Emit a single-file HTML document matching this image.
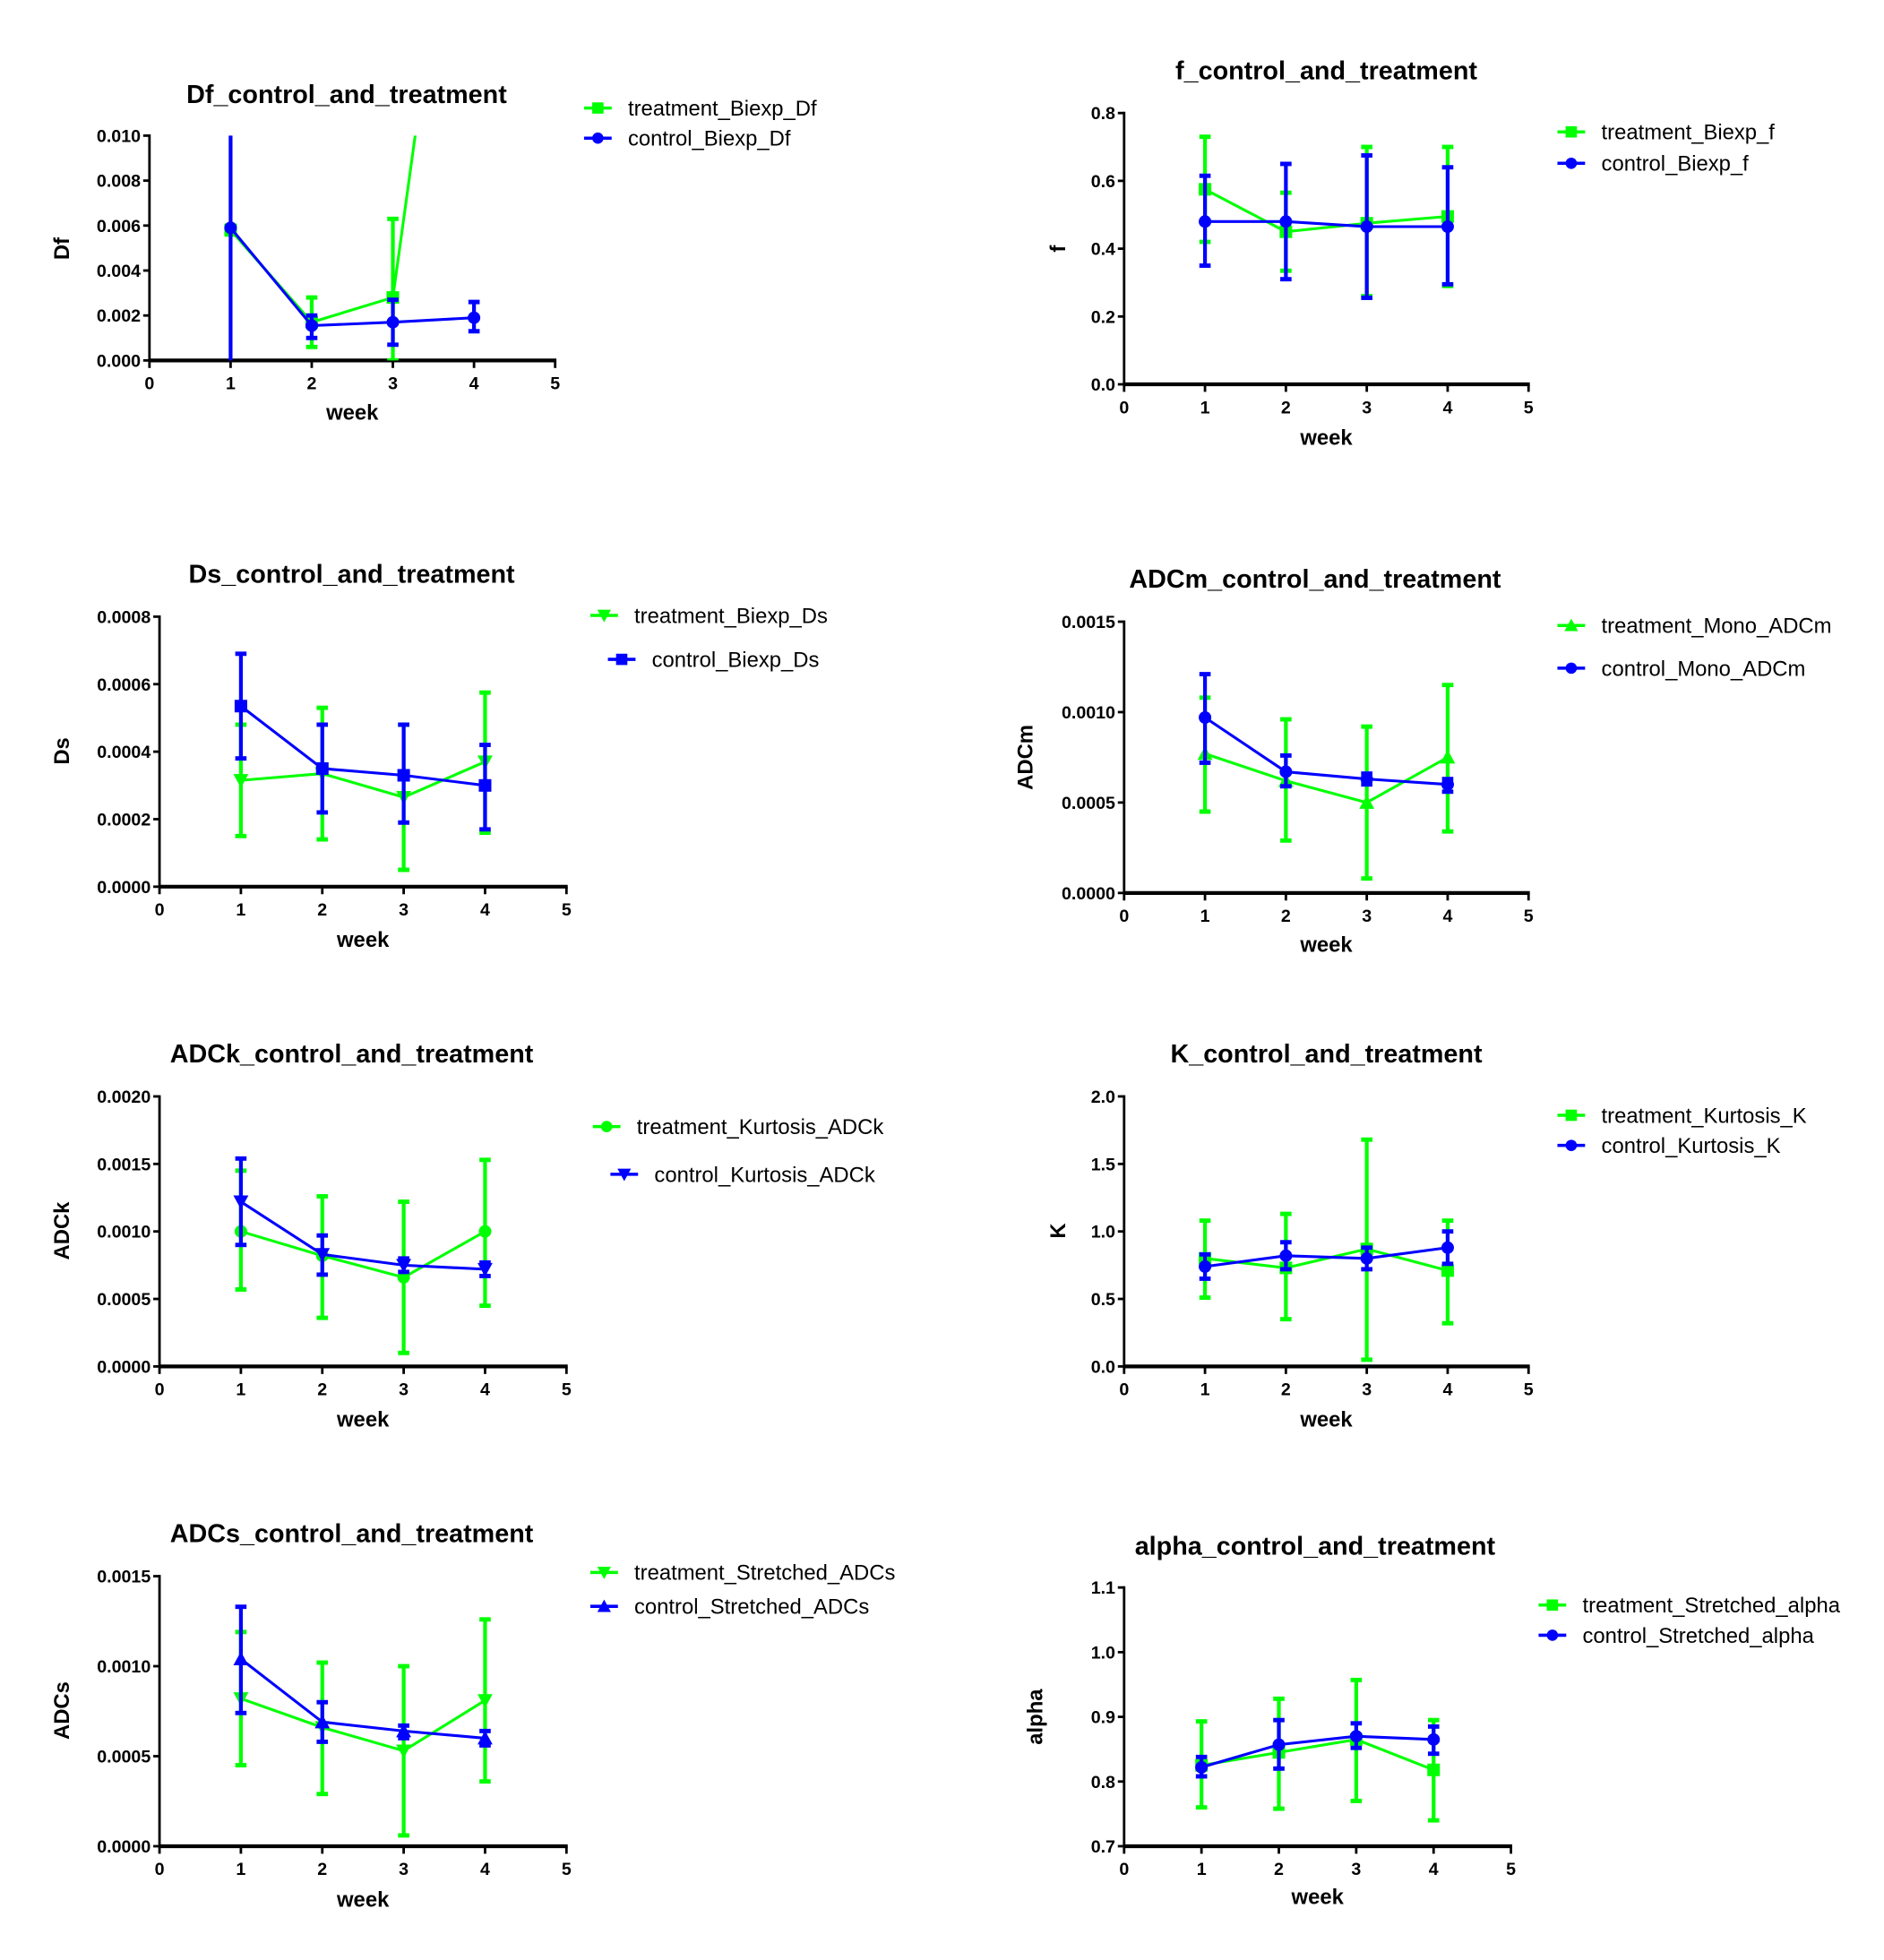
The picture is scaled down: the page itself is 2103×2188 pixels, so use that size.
<!DOCTYPE html>
<html><head><meta charset="utf-8">
<style>
html,body{margin:0;padding:0;background:#fff;}
svg{display:block;}
text{font-family:"Liberation Sans",Arial,sans-serif;}
</style></head>
<body>
<svg id="fig" width="2103" height="2188" viewBox="0 0 1500 1560.6" preserveAspectRatio="none" xmlns="http://www.w3.org/2000/svg">
<defs id="defs"></defs>
</svg>
<script>
// ---------- data ----------
const weeks = [1, 2, 3, 4];
const xTickLabels = ["0", "1", "2", "3", "4", "5"];

const dfTreat = [0.0058, 0.0017, 0.0028, 0.029];
const dfTreatLo = [0.0056, 0.0006, 0.0000, 0.020];
const dfTreatHi = [0.0060, 0.0028, 0.0063, 0.040];
const dfCtrl = [0.0059, 0.00155, 0.0017, 0.0019];
const dfCtrlLo = [-0.001, 0.0010, 0.0007, 0.0013];
const dfCtrlHi = [0.0125, 0.0020, 0.0027, 0.0026];
const dfTicks = ["0.000", "0.002", "0.004", "0.006", "0.008", "0.010"];

const fTreat = [0.575, 0.45, 0.475, 0.495];
const fTreatLo = [0.42, 0.335, 0.26, 0.29];
const fTreatHi = [0.73, 0.565, 0.70, 0.70];
const fCtrl = [0.48, 0.48, 0.465, 0.465];
const fCtrlLo = [0.35, 0.31, 0.255, 0.295];
const fCtrlHi = [0.615, 0.65, 0.675, 0.64];
const fTicks = ["0.0", "0.2", "0.4", "0.6", "0.8"];

const dsTreat = [0.000315, 0.000335, 0.000265, 0.00037];
const dsTreatLo = [0.00015, 0.00014, 0.00005, 0.00016];
const dsTreatHi = [0.00048, 0.00053, 0.00048, 0.000575];
const dsCtrl = [0.000535, 0.00035, 0.00033, 0.0003];
const dsCtrlLo = [0.00038, 0.00022, 0.00019, 0.00017];
const dsCtrlHi = [0.00069, 0.00048, 0.00048, 0.00042];
const dsTicks = ["0.0000", "0.0002", "0.0004", "0.0006", "0.0008"];

const adcmTreat = [0.00077, 0.00062, 0.0005, 0.00075];
const adcmTreatLo = [0.00045, 0.00029, 0.00008, 0.00034];
const adcmTreatHi = [0.00108, 0.00096, 0.00092, 0.00115];
const adcmCtrl = [0.00097, 0.00067, 0.00063, 0.0006];
const adcmCtrlLo = [0.00072, 0.00059, 0.0006, 0.00056];
const adcmCtrlHi = [0.00121, 0.00076, 0.00066, 0.00063];
const adcmTicks = ["0.0000", "0.0005", "0.0010", "0.0015"];

const adckTreat = [0.001, 0.00082, 0.00066, 0.001];
const adckTreatLo = [0.00057, 0.00036, 0.0001, 0.00045];
const adckTreatHi = [0.00145, 0.00126, 0.00122, 0.00153];
const adckCtrl = [0.00122, 0.00083, 0.00075, 0.00072];
const adckCtrlLo = [0.0009, 0.00068, 0.0007, 0.00067];
const adckCtrlHi = [0.00154, 0.00097, 0.0008, 0.00077];
const adckTicks = ["0.0000", "0.0005", "0.0010", "0.0015", "0.0020"];

const kTreat = [0.8, 0.73, 0.87, 0.71];
const kTreatLo = [0.51, 0.35, 0.05, 0.32];
const kTreatHi = [1.08, 1.13, 1.68, 1.08];
const kCtrl = [0.74, 0.82, 0.8, 0.88];
const kCtrlLo = [0.65, 0.72, 0.72, 0.76];
const kCtrlHi = [0.83, 0.92, 0.88, 1.0];
const kTicks = ["0.0", "0.5", "1.0", "1.5", "2.0"];

const adcsTreat = [0.00082, 0.00066, 0.00053, 0.00081];
const adcsTreatLo = [0.00045, 0.00029, 0.00006, 0.00036];
const adcsTreatHi = [0.00119, 0.00102, 0.001, 0.00126];
const adcsCtrl = [0.00104, 0.00069, 0.00064, 0.0006];
const adcsCtrlLo = [0.00074, 0.00058, 0.0006, 0.00056];
const adcsCtrlHi = [0.00133, 0.0008, 0.00067, 0.00064];
const adcsTicks = ["0.0000", "0.0005", "0.0010", "0.0015"];

const alphaTreat = [0.825, 0.845, 0.865, 0.818];
const alphaTreatLo = [0.76, 0.758, 0.77, 0.74];
const alphaTreatHi = [0.893, 0.928, 0.957, 0.895];
const alphaCtrl = [0.822, 0.857, 0.87, 0.865];
const alphaCtrlLo = [0.808, 0.82, 0.852, 0.843];
const alphaCtrlHi = [0.838, 0.895, 0.89, 0.885];
const alphaTicks = ["0.7", "0.8", "0.9", "1.0", "1.1"];

// ---------- layout ----------
const panels = [
 {id:"df", title:"Df_control_and_treatment", yl:"Df", x0:119, x5:442, yb:287, yt:108, ymin:0, ymax:0.010, ticks:dfTicks,
  tx:276, ty:82, ylx:55, yly:198, wy:334, lx:465, ly:[86,110], legT:"treatment_Biexp_Df", legC:"control_Biexp_Df", mT:"square", mC:"circle",
  t:dfTreat, tl:dfTreatLo, th:dfTreatHi, c:dfCtrl, cl:dfCtrlLo, ch:dfCtrlHi},
 {id:"f", title:"f_control_and_treatment", yl:"f", x0:895, x5:1217, yb:306, yt:90, ymin:0, ymax:0.8, ticks:fTicks,
  tx:1056, ty:63, ylx:848, yly:198, wy:354, lx:1240, ly:[105,130], legT:"treatment_Biexp_f", legC:"control_Biexp_f", mT:"square", mC:"circle",
  t:fTreat, tl:fTreatLo, th:fTreatHi, c:fCtrl, cl:fCtrlLo, ch:fCtrlHi},
 {id:"ds", title:"Ds_control_and_treatment", yl:"Ds", x0:127, x5:451, yb:706, yt:491, ymin:0, ymax:0.0008, ticks:dsTicks,
  tx:280, ty:464, ylx:55, yly:598, wy:754, lx:470, ly:[490,525], legT:"treatment_Biexp_Ds", legC:"control_Biexp_Ds", mT:"tridown", mC:"square", legCoff:14,
  t:dsTreat, tl:dsTreatLo, th:dsTreatHi, c:dsCtrl, cl:dsCtrlLo, ch:dsCtrlHi},
 {id:"adcm", title:"ADCm_control_and_treatment", yl:"ADCm", x0:895, x5:1217, yb:711, yt:495, ymin:0, ymax:0.0015, ticks:adcmTicks,
  tx:1047, ty:468, ylx:822, yly:603, wy:758, lx:1240, ly:[498,532], legT:"treatment_Mono_ADCm", legC:"control_Mono_ADCm", mT:"triup", mC:"circle",
  t:adcmTreat, tl:adcmTreatLo, th:adcmTreatHi, c:adcmCtrl, cl:adcmCtrlLo, ch:adcmCtrlHi},
 {id:"adck", title:"ADCk_control_and_treatment", yl:"ADCk", x0:127, x5:451, yb:1088, yt:873, ymin:0, ymax:0.0020, ticks:adckTicks,
  tx:280, ty:846, ylx:55, yly:980, wy:1136, lx:472, ly:[897,935], legT:"treatment_Kurtosis_ADCk", legC:"control_Kurtosis_ADCk", mT:"circle", mC:"tridown", legCoff:14,
  t:adckTreat, tl:adckTreatLo, th:adckTreatHi, c:adckCtrl, cl:adckCtrlLo, ch:adckCtrlHi},
 {id:"k", title:"K_control_and_treatment", yl:"K", x0:895, x5:1217, yb:1088, yt:873, ymin:0, ymax:2.0, ticks:kTicks,
  tx:1056, ty:846, ylx:848, yly:980, wy:1136, lx:1240, ly:[888,912], legT:"treatment_Kurtosis_K", legC:"control_Kurtosis_K", mT:"square", mC:"circle",
  t:kTreat, tl:kTreatLo, th:kTreatHi, c:kCtrl, cl:kCtrlLo, ch:kCtrlHi},
 {id:"adcs", title:"ADCs_control_and_treatment", yl:"ADCs", x0:127, x5:451, yb:1470, yt:1255, ymin:0, ymax:0.0015, ticks:adcsTicks,
  tx:280, ty:1228, ylx:55, yly:1362, wy:1518, lx:470, ly:[1252,1279], legT:"treatment_Stretched_ADCs", legC:"control_Stretched_ADCs", mT:"tridown", mC:"triup",
  t:adcsTreat, tl:adcsTreatLo, th:adcsTreatHi, c:adcsCtrl, cl:adcsCtrlLo, ch:adcsCtrlHi},
 {id:"alpha", title:"alpha_control_and_treatment", yl:"alpha", x0:895, x5:1203, yb:1470, yt:1264, ymin:0.7, ymax:1.1, ticks:alphaTicks,
  tx:1047, ty:1238, ylx:830, yly:1367, wy:1516, lx:1225, ly:[1278,1302], legT:"treatment_Stretched_alpha", legC:"control_Stretched_alpha", mT:"square", mC:"circle",
  t:alphaTreat, tl:alphaTreatLo, th:alphaTreatHi, c:alphaCtrl, cl:alphaCtrlLo, ch:alphaCtrlHi}
];

const NS = "http://www.w3.org/2000/svg";
const svg = document.getElementById("fig");
const defs = document.getElementById("defs");
const GREEN = "#00ff00", BLUE = "#0000ff";

function mk(tag, attrs, parent) {
  const e = document.createElementNS(NS, tag);
  for (const k in attrs) e.setAttribute(k, attrs[k]);
  (parent || svg).appendChild(e);
  return e;
}
function marker(type, x, y, color, parent, s) {
  s = s || 5;
  if (type === "square") return mk("rect", {x:x-s, y:y-s, width:2*s, height:2*s, fill:color}, parent);
  if (type === "circle") return mk("circle", {cx:x, cy:y, r:s, fill:color}, parent);
  if (type === "triup") return mk("polygon", {points:`${x-s*1.2},${y+s} ${x+s*1.2},${y+s} ${x},${y-s*1.2}`, fill:color}, parent);
  return mk("polygon", {points:`${x-s*1.2},${y-s} ${x+s*1.2},${y-s} ${x},${y+s*1.2}`, fill:color}, parent);
}

panels.forEach(p => {
  const g = mk("g", {});
  
  
  const xs = w => p.x0 + (p.x5 - p.x0) * w / 5;
  const ys = v => p.yb - (p.yb - p.yt) * (v - p.ymin) / (p.ymax - p.ymin);

  const title = mk("text", {x:p.tx, y:p.ty, "text-anchor":"middle", "font-size":20.5, "font-weight":"bold"}, g);
  title.textContent = p.title;
  
  

  const yAxis = mk("line", {x1:p.x0, y1:p.yt-1, x2:p.x0, y2:p.yb, stroke:"#000", "stroke-width":2}, g);
  
  
  const xAxis = mk("line", {x1:p.x0, y1:p.yb, x2:p.x5+1, y2:p.yb, stroke:"#000", "stroke-width":3}, g);
  
  

  p.ticks.forEach((lab, i) => {
    const v = p.ymin + (p.ymax - p.ymin) * i / (p.ticks.length - 1);
    const y = ys(v);
    mk("line", {x1:p.x0-5, y1:y, x2:p.x0, y2:y, stroke:"#000", "stroke-width":2}, g);
    const t = mk("text", {x:p.x0-7, y:y+5, "text-anchor":"end", "font-size":14, "font-weight":"bold"}, g);
    t.textContent = lab;
    
    
  });
  xTickLabels.forEach((lab, i) => {
    const x = xs(i);
    mk("line", {x1:x, y1:p.yb, x2:x, y2:p.yb+6, stroke:"#000", "stroke-width":2}, g);
    const t = mk("text", {x:x, y:p.yb+23, "text-anchor":"middle", "font-size":14, "font-weight":"bold"}, g);
    t.textContent = lab;
    
    
  });
  const wk = mk("text", {x:(p.x0+p.x5)/2, y:p.wy, "text-anchor":"middle", "font-size":17, "font-weight":"bold"}, g);
  wk.textContent = "week";
  
  
  const yl = mk("text", {x:p.ylx, y:p.yly, "text-anchor":"middle", "font-size":17, "font-weight":"bold", transform:`rotate(-90 ${p.ylx} ${p.yly})`}, g);
  yl.textContent = p.yl;
  
  

  const cp = mk("clipPath", {id:"clip-" + p.id}, defs);
  mk("rect", {x:p.x0, y:p.yt, width:p.x5-p.x0+10, height:p.yb-p.yt}, cp);
  const plot = mk("g", {"clip-path":`url(#clip-${p.id})`}, g);
  
  

  const series = [
    {name:"treatment", v:p.t, lo:p.tl, hi:p.th, col:GREEN, m:p.mT},
    {name:"control", v:p.c, lo:p.cl, hi:p.ch, col:BLUE, m:p.mC}
  ];
  series.forEach(s => {
    const sg = mk("g", {}, plot);
    
    
    const pts = weeks.map((w, i) => `${xs(w)},${ys(s.v[i])}`).join(" ");
    const line = mk("polyline", {points:pts, fill:"none", stroke:s.col, "stroke-width":2.2}, sg);
    
    
    weeks.forEach((w, i) => {
      const x = xs(w), yl2 = ys(s.lo[i]), yh = ys(s.hi[i]);
      const eb = mk("g", {}, sg);
      
      
      mk("line", {x1:x, y1:yl2, x2:x, y2:yh, stroke:s.col, "stroke-width":3}, eb);
      mk("line", {x1:x-4.5, y1:yl2, x2:x+4.5, y2:yl2, stroke:s.col, "stroke-width":3.5}, eb);
      mk("line", {x1:x-4.5, y1:yh, x2:x+4.5, y2:yh, stroke:s.col, "stroke-width":3.5}, eb);
      const mm = marker(s.m, x, ys(s.v[i]), s.col, sg, 5);
      
      
    });
  });

  const leg = mk("g", {}, g);
  
  
  [[p.legT, GREEN, p.mT, 0], [p.legC, BLUE, p.mC, p.legCoff || 0]].forEach((e, k) => {
    const y = p.ly[k], lx = p.lx + e[3];
    const eg = mk("g", {}, leg);
    
    
    mk("line", {x1:lx, y1:y, x2:lx+22, y2:y, stroke:e[1], "stroke-width":2.5}, eg);
    marker(e[2], lx+11, y, e[1], eg, 4.5);
    const t = mk("text", {x:lx+35, y:y+6, "font-size":17}, eg);
    t.textContent = e[0];
  });
});
</script>
</body></html>
